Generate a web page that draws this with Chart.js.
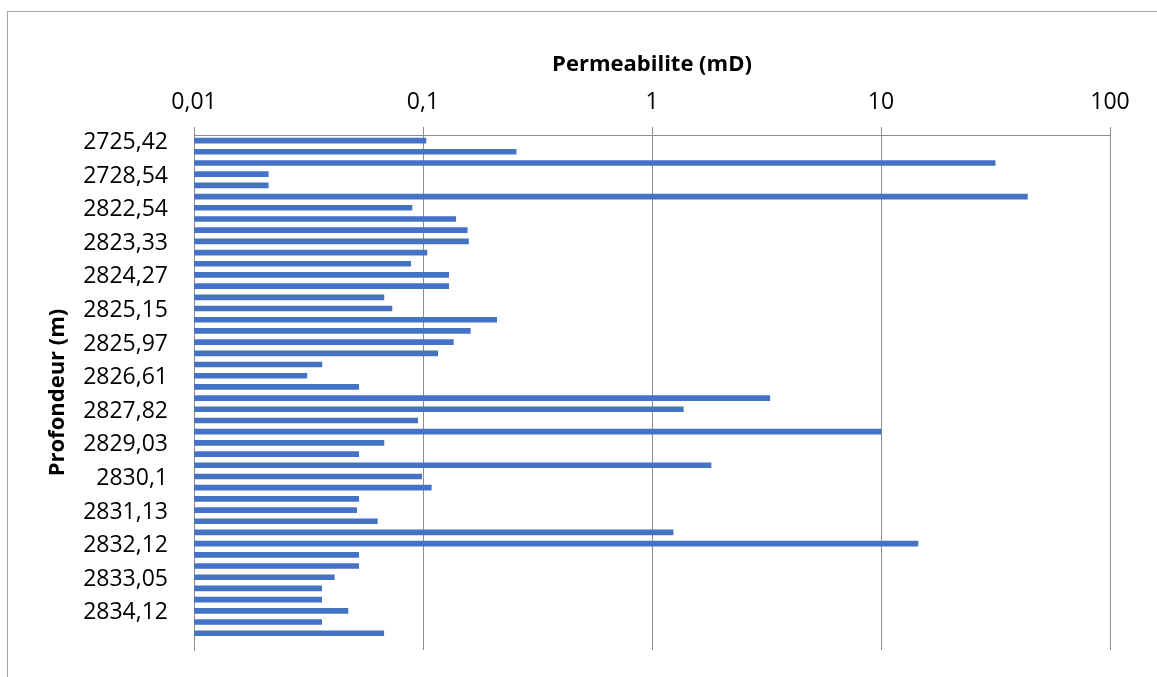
<!DOCTYPE html>
<html>
<head>
<meta charset="utf-8">
<script src="https://cdn.jsdelivr.net/npm/chart.js@4/dist/chart.umd.min.js"></script>
<style>
  html, body { margin: 0; padding: 0; background: #fff; overflow: hidden; }
  #wrap { position: relative; width: 1157px; height: 677px; }
  #frame { position: absolute; left: 7px; top: 11px; width: 1300px; height: 800px;
           border: 1px solid #a6a6a6; box-sizing: border-box; }
  canvas { position: absolute; left: 0; top: 0; }
</style>
</head>
<body>
<div id="wrap">
  <div id="frame"></div>
  <canvas id="c" width="1157" height="677"></canvas>
</div>
<script>
// Sample depths (m), top to bottom; the last row is blank
const depths = [
  '2725,42', '2726,37', '2727,60',
  '2728,54', '2729,12', '2821,95',
  '2822,54', '2822,80', '2823,06',
  '2823,33', '2823,65', '2823,98',
  '2824,27', '2824,55', '2824,86',
  '2825,15', '2825,42', '2825,70',
  '2825,97', '2826,18', '2826,40',
  '2826,61', '2827,02', '2827,41',
  '2827,82', '2828,22', '2828,63',
  '2829,03', '2829,38', '2829,74',
  '2830,1',  '2830,44', '2830,79',
  '2831,13', '2831,46', '2831,79',
  '2832,12', '2832,43', '2832,74',
  '2833,05', '2833,41', '2833,77',
  '2834,12', '2834,45', '2834,78',
  ''
];

// Permeability per depth (mD)
const permeability = [
  0.103, 0.255, 31.5,
  0.0211, 0.0211, 43.6,
  0.0895, 0.139, 0.156,
  0.158, 0.104, 0.0884,
  0.1295, 0.1295, 0.0675,
  0.0732, 0.2098, 0.161,
  0.1357, 0.1159, 0.0362,
  0.0311, 0.0524, 3.27,
  1.37, 0.0948, 10.0,
  0.0675, 0.0524, 1.81,
  0.0987, 0.1087, 0.0524,
  0.0513, 0.0632, 1.236,
  14.5, 0.0524, 0.0524,
  0.0410, 0.0361, 0.0361,
  0.0470, 0.0361, 0.0674,
  null
];

// Decade ticks of the permeability axis and their printed labels
const permTicks = [0.01, 0.1, 1, 10, 100];
const permTickLabels = ['0,01', '0,1', '1', '10', '100'];

const FONT = '"Open Sans", "Liberation Sans", sans-serif';
const GRID = '#8c8c8c';

new Chart(document.getElementById('c'), {
  type: 'bar',
  data: {
    labels: depths,
    datasets: [{
      label: 'Permeabilite (mD)',
      data: permeability,
      backgroundColor: '#4472C4',
      borderWidth: 0,
      barThickness: 5
    }]
  },
  options: {
    indexAxis: 'y',
    responsive: false,
    animation: false,
    devicePixelRatio: 1,
    layout: { padding: { left: 0, top: 0, right: 47, bottom: 27 } },
    plugins: {
      legend: { display: false },
      tooltip: { enabled: false }
    },
    scales: {
      x: {
        type: 'logarithmic',
        position: 'top',
        min: 0.01,
        max: 100,
        afterBuildTicks: s => { s.ticks = permTicks.map(v => ({ value: v })); },
        afterFit: s => { s.height = 135; },
        ticks: {
          autoSkip: false,
          maxRotation: 0,
          padding: 11,
          color: '#000',
          font: { family: FONT, size: 23 },
          callback: v => {
            const i = permTicks.findIndex(t => Math.abs(t - v) / t < 1e-9);
            return i >= 0 ? permTickLabels[i] : '';
          }
        },
        grid: { display: true, color: GRID, lineWidth: 1, tickLength: 8, drawTicks: true },
        border: { display: true, color: GRID, width: 1 },
        title: {
          display: true,
          text: 'Permeabilite (mD)',
          color: '#000',
          font: { family: FONT, size: 22, weight: 'bold' },
          padding: { top: 52, bottom: 0 }
        }
      },
      y: {
        type: 'category',
        offset: true,
        afterFit: s => {
          // keep the plot area edges fixed: no extra room for the end labels
          s.width = 194;
          s.paddingTop = 0;
          s.paddingBottom = 0;
        },
        ticks: {
          autoSkip: false,
          padding: 26,
          labelOffset: 2,
          color: '#000',
          font: { family: FONT, size: 23 },
          callback: function (v, i) { return i % 3 === 0 ? this.getLabelForValue(v) : ''; }
        },
        grid: { display: false, drawTicks: false },
        border: { display: true, color: GRID, width: 1 },
        title: {
          display: true,
          text: 'Profondeur (m)',
          color: '#000',
          font: { family: FONT, size: 22, weight: 'bold' },
          padding: { top: 45, bottom: 0 }
        }
      }
    }
  }
});
</script>
</body>
</html>
